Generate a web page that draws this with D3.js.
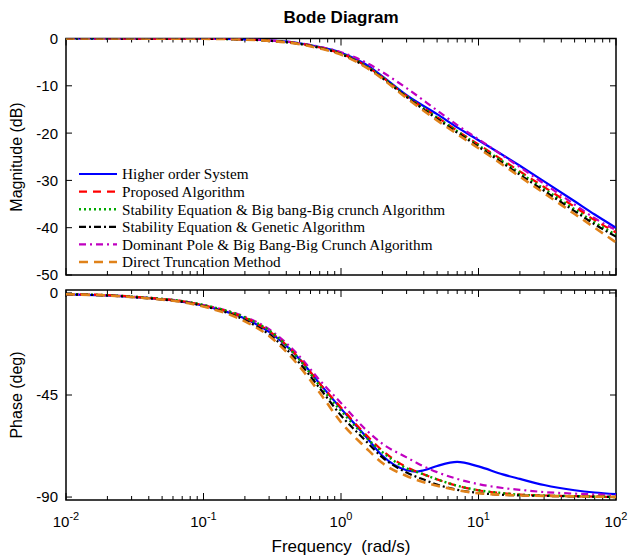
<!DOCTYPE html>
<html>
<head>
<meta charset="utf-8">
<script src="https://cdn.jsdelivr.net/npm/d3@7"></script>
<style>
  body { margin: 0; background: #fff; }
  text { font-family: Arial, "Liberation Sans", sans-serif; }
</style>
</head>
<body>
<div id="chart"></div>
<script>
// frequencies (rad/s) used for every series
const freq = [0.01, 0.03, 0.1, 0.2, 0.3, 0.5, 0.7, 1, 1.5, 2, 3, 5, 7, 10, 20, 30, 50, 70, 100];

// magnitude (dB)
const magHigher   = [0, -0.01, -0.05, -0.18, -0.4, -1.0, -1.8, -3.0, -5.4, -8.0, -12.0, -16.0, -18.8, -21.5, -26.9, -30.2, -34.4, -37.2, -40.0];
const magProposed = [0, -0.01, -0.05, -0.2, -0.45, -1.1, -1.9, -3.2, -5.7, -8.2, -12.2, -16.6, -19.5, -22.4, -28.1, -31.4, -35.6, -38.4, -41.0];
const magSeBbbc   = [0, -0.01, -0.05, -0.2, -0.45, -1.1, -1.9, -3.2, -5.7, -8.2, -12.2, -16.7, -19.6, -22.6, -28.4, -31.8, -36.1, -38.9, -41.5];
const magSeGa     = [0, -0.01, -0.06, -0.21, -0.48, -1.15, -2.0, -3.3, -5.9, -8.4, -12.4, -17.0, -19.9, -22.9, -28.8, -32.2, -36.5, -39.3, -41.9];
const magDpBbbc   = [0, -0.01, -0.05, -0.18, -0.4, -1.0, -1.75, -2.9, -5.0, -7.1, -10.5, -15.2, -18.3, -21.3, -27.2, -30.7, -35.1, -38.0, -40.5];
const magTrunc    = [0, -0.01, -0.06, -0.22, -0.5, -1.2, -2.1, -3.4, -6.0, -8.5, -12.6, -17.3, -20.2, -23.2, -29.2, -32.7, -37.1, -40.0, -43.1];

// phase (deg) frequencies - denser around the hump
const pfreq = [0.01, 0.03, 0.1, 0.2, 0.3, 0.5, 0.7, 1, 1.5, 2, 3, 3.5, 4, 5, 7, 10, 15, 20, 30, 50, 70, 100];
const phHigher   = [-0.6, -1.7, -5.6, -11.3, -17.2, -29.2, -40, -51, -63, -71.8, -78.2, -78.8, -78.2, -76.3, -74.5, -76.5, -80, -82, -84.7, -87, -88, -88.7];
const phProposed = [-0.5, -1.6, -5.4, -11, -16.8, -29, -40, -50.5, -62.2, -69.5, -76.8, -78.6, -80, -82.2, -85, -87, -88.3, -88.9, -89.3, -89.6, -89.8, -90];
const phSeBbbc   = [-0.5, -1.6, -5.3, -10.8, -16.5, -29.5, -41, -52, -63.3, -70.2, -77.3, -78.8, -80, -82.2, -85, -87, -88.3, -89, -89.3, -89.6, -89.8, -90];
const phSeGa     = [-0.6, -1.8, -5.8, -12, -18.3, -31, -42, -54, -65, -72.5, -79.2, -81, -82.3, -84.5, -86.8, -88.2, -89, -89.3, -89.5, -89.7, -89.8, -90];
const phDpBbbc   = [-0.55, -1.6, -5.3, -10.5, -16, -28, -38.5, -48.5, -60, -66.5, -72.5, -74.7, -76.5, -79, -82, -84.3, -86, -86.8, -87.8, -88.5, -88.8, -89.2];
const phTrunc    = [-0.6, -1.8, -6, -12.5, -19, -32.5, -44, -57, -68, -75, -80.7, -82.3, -83.5, -85, -87, -88.3, -89, -89.3, -89.5, -89.7, -89.8, -90];

const seriesNames = [
  "Higher order System",
  "Proposed Algorithm",
  "Stability Equation & Big bang-Big crunch Algorithm",
  "Stability Equation & Genetic Algorithm",
  "Dominant Pole & Big Bang-Big Crunch Algorithm",
  "Direct Truncation Method"
];
const magData = [magHigher, magProposed, magSeBbbc, magSeGa, magDpBbbc, magTrunc];
const phData  = [phHigher, phProposed, phSeBbbc, phSeGa, phDpBbbc, phTrunc];

const styles = [
  { color: "#0000ff", dash: null,       width: 2.2 },
  { color: "#ff0000", dash: "8,6",      width: 2.2 },
  { color: "#00a800", dash: "2,3",      width: 2.4 },
  { color: "#000000", dash: "7,3,2,3",  width: 2.2 },
  { color: "#c000c0", dash: "7,4,2,4",  width: 2.2 },
  { color: "#e0821a", dash: "9,6",      width: 2.6 }
];
// draw order: blue first, orange last on top-ish
const drawOrder = [0, 4, 1, 2, 3, 5];

const svgWidth = 630, svgHeight = 557;
const left = 66, right = 616;

const svg = d3.select("#chart").append("svg")
  .attr("width", svgWidth)
  .attr("height", svgHeight);

const x = d3.scaleLog().domain([0.01, 100]).range([left, right]);
const yMag = d3.scaleLinear().domain([-50, 0]).range([275, 38.5]);
const yPh = d3.scaleLinear().domain([-91.3, 1.3]).range([500, 290]);

function minorTicks() {
  const t = [];
  for (let e = -2; e < 2; e++) {
    for (let k = 1; k < 10; k++) t.push(k * Math.pow(10, e));
  }
  t.push(100);
  return t;
}

function drawPanel(y, yTicks, top, bottom, id, showXLabels) {
  const g = svg.append("g");
  g.append("clipPath").attr("id", id)
    .append("rect").attr("x", left).attr("y", top)
    .attr("width", right - left).attr("height", bottom - top);

  // ticks along x (both sides, inward)
  const xt = minorTicks();
  xt.forEach(v => {
    const major = Math.abs(Math.log10(v) - Math.round(Math.log10(v))) < 1e-9;
    const len = major ? 7 : 4;
    g.append("line").attr("x1", x(v)).attr("x2", x(v))
      .attr("y1", bottom).attr("y2", bottom - len).attr("stroke", "#000");
    g.append("line").attr("x1", x(v)).attr("x2", x(v))
      .attr("y1", top).attr("y2", top + len).attr("stroke", "#000");
  });
  yTicks.forEach(v => {
    g.append("line").attr("x1", left).attr("x2", left + 6)
      .attr("y1", y(v)).attr("y2", y(v)).attr("stroke", "#000");
    g.append("line").attr("x1", right).attr("x2", right - 6)
      .attr("y1", y(v)).attr("y2", y(v)).attr("stroke", "#000");
    g.append("text").attr("x", left - 8).attr("y", y(v))
      .attr("dy", "0.36em").attr("text-anchor", "end")
      .attr("font-size", 15).text(v);
  });
  g.append("rect").attr("x", left).attr("y", top)
    .attr("width", right - left).attr("height", bottom - top)
    .attr("fill", "none").attr("stroke", "#000").attr("stroke-width", 1.5);

  if (showXLabels) {
    [-2, -1, 0, 1, 2].forEach(e => {
      const t = g.append("text").attr("x", x(Math.pow(10, e)))
        .attr("y", bottom + 27).attr("text-anchor", "middle")
        .attr("font-size", 15);
      t.append("tspan").text("10");
      t.append("tspan").attr("dy", -7).attr("font-size", 11).text(e);
    });
  }
  return g;
}

const magPanel = drawPanel(yMag, [0, -10, -20, -30, -40, -50], 38.5, 275, "clipMag", false);
const phPanel = drawPanel(yPh, [0, -45, -90], 290, 500, "clipPh", true);

function drawLines(panel, xs, data, y, clip) {
  const line = d3.line()
    .x(d => x(d[0]))
    .y(d => y(d[1]))
    .curve(d3.curveMonotoneX);
  drawOrder.forEach(i => {
    const pts = xs.map((f, j) => [f, data[i][j]]);
    panel.append("path")
      .attr("clip-path", `url(#${clip})`)
      .attr("d", line(pts))
      .attr("fill", "none")
      .attr("stroke", styles[i].color)
      .attr("stroke-width", styles[i].width)
      .attr("stroke-dasharray", styles[i].dash);
  });
}

drawLines(magPanel, freq, magData, yMag, "clipMag");
drawLines(phPanel, pfreq, phData, yPh, "clipPh");

// legend
const legend = svg.append("g");
seriesNames.forEach((name, i) => {
  const ly = 174 + i * 17.6;
  legend.append("line").attr("x1", 79).attr("x2", 117)
    .attr("y1", ly).attr("y2", ly)
    .attr("stroke", styles[i].color)
    .attr("stroke-width", styles[i].width)
    .attr("stroke-dasharray", styles[i].dash);
  legend.append("text").attr("x", 122).attr("y", ly)
    .attr("dy", "0.35em")
    .style("font-family", "'Liberation Serif', 'Times New Roman', serif")
    .attr("font-size", 15.2).text(name);
});

// title and axis labels
svg.append("text").attr("x", 341).attr("y", 23)
  .attr("text-anchor", "middle").attr("font-size", 17)
  .attr("font-weight", "bold").text("Bode Diagram");

svg.append("text").attr("transform", "translate(22,157) rotate(-90)")
  .attr("text-anchor", "middle").attr("font-size", 16).text("Magnitude (dB)");

svg.append("text").attr("transform", "translate(22,395) rotate(-90)")
  .attr("text-anchor", "middle").attr("font-size", 16).text("Phase (deg)");

svg.append("text").attr("x", 341).attr("y", 552)
  .attr("text-anchor", "middle").attr("font-size", 17)
  .attr("xml:space", "preserve").text("Frequency  (rad/s)");
</script>
</body>
</html>
